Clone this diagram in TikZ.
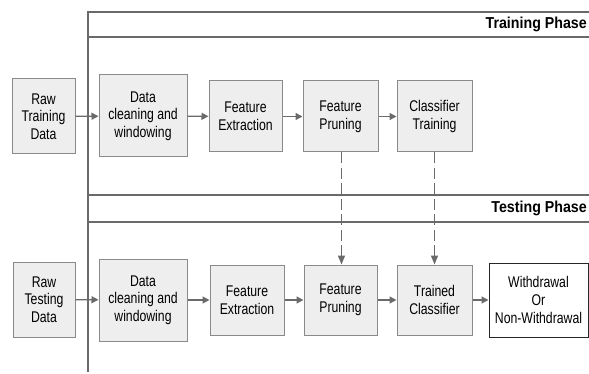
\documentclass[tikz,border=0pt]{standalone}
\usepackage{fontspec}
\setmainfont[FakeStretch=0.79]{Liberation Sans}
\newfontfamily\phasefont[FakeStretch=0.9]{Liberation Sans}
\usetikzlibrary{arrows.meta}
\definecolor{boxfill}{HTML}{EEEEEE}
\definecolor{boxline}{HTML}{8A8A8A}
\definecolor{linegray}{HTML}{6A6A6A}
\begin{document}
\begin{tikzpicture}[x=1pt,y=-1pt,
  box/.style={draw=boxline,fill=boxfill,line width=1pt,align=center,inner sep=0pt,
    font=\fontsize{15.5}{17.7}\selectfont},
  outbox/.style={draw=black!85,fill=white,line width=1pt,align=center,inner sep=0pt,
    font=\fontsize{15.5}{17.7}\selectfont},
  sep/.style={draw=linegray,line width=1.2pt},
  flow/.style={draw=linegray,line width=1.3pt,-{Triangle[length=7pt,width=7pt]}},
  dflow/.style={draw=linegray,line width=1.3pt,dash pattern=on 11pt off 4.5pt,
    -{Triangle[length=9pt,width=7pt]}},
  phase/.style={font=\phasefont\bfseries\fontsize{15.8}{18}\selectfont,anchor=east,inner sep=0pt}
]
\useasboundingbox (0,0) rectangle (589,374);
% phase separators
\coordinate (v1) at (88,12);
\coordinate (v2) at (88,372);
\draw[sep] (589,12) -- (v1) -- (v2);
\draw[sep] (88,37) -- (589,37);
\draw[sep] (88,195) -- (589,195);
\draw[sep] (88,222) -- (589,222);
\node[phase] (tp) at (587,24) {Training Phase};
\node[phase] (sp) at (587,208) {Testing Phase};
% training row
\node[box,minimum width=63pt,minimum height=75pt] (rawtr) at (43.5,116.5) {Raw\\Training\\Data};
\node[box,minimum width=88pt,minimum height=82pt] (dc1) at (143,116) {Data\\cleaning and\\windowing};
\node[box,minimum width=73pt,minimum height=71pt] (fe1) at (245.5,116.5) {Feature\\Extraction};
\node[box,minimum width=75pt,minimum height=71pt] (fp1) at (340.5,116.5) {Feature\\Pruning};
\node[box,minimum width=75pt,minimum height=71pt] (ct) at (434.5,116.5) {Classifier\\Training};
% testing row
\node[box,minimum width=62pt,minimum height=75pt] (rawte) at (44,299.5) {Raw\\Testing\\Data};
\node[box,minimum width=88pt,minimum height=82pt] (dc2) at (143,300) {Data\\cleaning and\\windowing};
\node[box,minimum width=74pt,minimum height=70pt] (fe2) at (247,300) {Feature\\Extraction};
\node[box,minimum width=73pt,minimum height=70pt] (fp2) at (340.5,300) {Feature\\Pruning};
\node[box,minimum width=75pt,minimum height=70pt] (tc) at (434.5,300) {Trained\\Classifier};
\node[outbox,minimum width=99pt,minimum height=74pt] (out) at (538.5,300) {Withdrawal\\Or\\Non-Withdrawal};
% arrows
\draw[flow] (rawtr) -- (dc1);
\draw[flow] (dc1) -- (fe1);
\draw[flow] (fe1) -- (fp1);
\draw[flow] (fp1) -- (ct);
\draw[flow] (rawte) -- (dc2);
\draw[flow] (dc2) -- (fe2);
\draw[flow] (fe2) -- (fp2);
\draw[flow] (fp2) -- (tc);
\draw[flow] (tc) -- (out);
\draw[dflow] ([xshift=1pt]fp1.south) -- ([xshift=1pt]fp2.north);
\draw[dflow] (ct.south) -- (tc.north);
\end{tikzpicture}
\end{document}
